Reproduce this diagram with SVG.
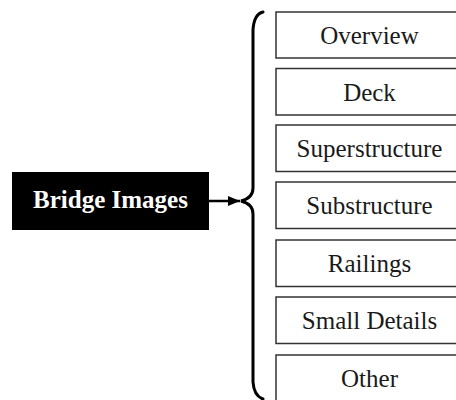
<svg xmlns="http://www.w3.org/2000/svg" width="456" height="400" viewBox="0 0 456 400">
<style>
.box{fill:#fff;stroke:#333;stroke-width:1.5}
.lbl{font-family:"Liberation Serif","Times New Roman",serif;font-size:25px;fill:#1a1a1a;text-anchor:middle}
.root{font-family:"Liberation Serif","Times New Roman",serif;font-size:25px;font-weight:bold;fill:#fff;text-anchor:middle}
.conn{fill:none;stroke:#000;stroke-width:3;stroke-linecap:round}
</style>
<defs>
<marker id="ah" markerWidth="12" markerHeight="10" refX="12" refY="5" orient="auto" markerUnits="userSpaceOnUse">
<path d="M0,0 L12,5 L0,10 Z" fill="#000"/>
</marker>
</defs>
<rect width="456" height="400" fill="#fff"/>
<g id="root">
<rect x="12" y="172" width="197" height="58" fill="#000"/>
<text class="root" x="110.5" y="208">Bridge Images</text>
</g>
<g id="connectors">
<line x1="209" y1="201" x2="240" y2="201" stroke="#000" stroke-width="2.5" marker-end="url(#ah)"/>
<path class="conn" d="M263,12 Q254,14 253,30 L253,188 Q253,198 241,201 Q253,204 253,214 L253,382 Q254,396 263,399"/>
</g>
<g id="n1"><rect class="box" x="276" y="12" width="190" height="46"/><text class="lbl" x="369.5" y="44">Overview</text></g>
<g id="n2"><rect class="box" x="276" y="68.5" width="190" height="46.5"/><text class="lbl" x="369.5" y="100.5">Deck</text></g>
<g id="n3"><rect class="box" x="276" y="125" width="190" height="46.5"/><text class="lbl" x="369.5" y="157">Superstructure</text></g>
<g id="n4"><rect class="box" x="276" y="182" width="190" height="46.5"/><text class="lbl" x="369.5" y="214">Substructure</text></g>
<g id="n5"><rect class="box" x="276" y="240" width="190" height="46.5"/><text class="lbl" x="369.5" y="272">Railings</text></g>
<g id="n6"><rect class="box" x="276" y="297" width="190" height="46.5"/><text class="lbl" x="369.5" y="329">Small Details</text></g>
<g id="n7"><rect class="box" x="276" y="355" width="190" height="60"/><text class="lbl" x="369.5" y="387">Other</text></g>
</svg>
